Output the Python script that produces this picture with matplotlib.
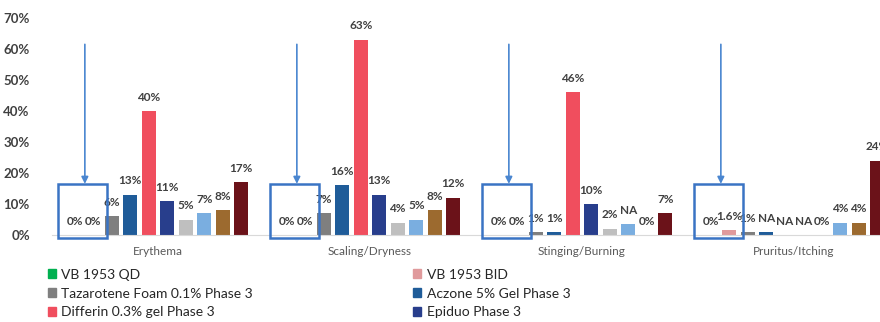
import numpy as np
import matplotlib
matplotlib.use("Agg")
import matplotlib.pyplot as plt
from matplotlib.patches import Rectangle, Patch

plt.rcParams['font.family'] = ['Lato', 'DejaVu Sans']

categories = ["Erythema", "Scaling/Dryness", "Stinging/Burning", "Pruritus/Itching"]
series_names = ["VB 1953 QD", "VB 1953 BID", "Tazarotene Foam 0.1% Phase 3",
                "Aczone 5% Gel Phase 3", "Differin 0.3% gel Phase 3", "Epiduo Phase 3",
                "Series 7", "Series 8", "Series 9", "Series 10"]
colors = ["#00B050", "#E09A9C", "#7F7F7F", "#1F5C99", "#F04E5E", "#283E8C",
          "#BFBFBF", "#7AAEE0", "#9C6A2F", "#6B1219"]

qd       = [0, 0, 0, 0]
bid      = [0, 0, 0, 1.6]
taz      = [6, 7, 1, 1]
aczone   = [13, 16, 1, 1]
differin = [40, 63, 46, 0]
epiduo   = [11, 13, 10, 0]
lgray    = [5, 4, 2, 0]
lblue    = [7, 5, 3.5, 4]
brown    = [8, 8, 0, 4]
maroon   = [17, 12, 7, 24]
values = [qd, bid, taz, aczone, differin, epiduo, lgray, lblue, brown, maroon]

# label text shown above each bar (per series, per category)
labels = [
    ["0%", "0%", "0%", "0%"],
    ["0%", "0%", "0%", "1.6%"],
    ["6%", "7%", "1%", "1%"],
    ["13%", "16%", "1%", "NA"],
    ["40%", "63%", "46%", "NA"],
    ["11%", "13%", "10%", "NA"],
    ["5%", "4%", "2%", "0%"],
    ["7%", "5%", "NA", "4%"],
    ["8%", "8%", "0%", "4%"],
    ["17%", "12%", "7%", "24%"],
]

fig = plt.figure(figsize=(8.8, 3.22), dpi=100)
ax = fig.add_axes([52/880, 87/322, 848/880, 217/322])

pitch = 18.5/212
width = 14/212
x = np.arange(len(categories))
for k, (vals, col) in enumerate(zip(values, colors)):
    xs = x + (k - 4.5)*pitch
    ax.bar(xs, vals, width=width, color=col, edgecolor="none")
    for i, (xi, v) in enumerate(zip(xs, vals)):
        ax.annotate(labels[k][i], (xi, v), xytext=(0, 10), textcoords="offset points",
                    ha="center", va="center", fontsize=8.5, color="#404040",
                    fontweight="bold", annotation_clip=False)

# highlight boxes and arrows over the VB 1953 bars
for i in x:
    ax.add_patch(Rectangle((i - 0.47, -1), 0.23, 17.3, fill=False, edgecolor="#3A74C4",
                           lw=1.8, clip_on=False, zorder=5))
    ax.annotate("", xy=(i - 0.345, 16.5), xytext=(i - 0.345, 61.5),
                arrowprops=dict(arrowstyle="-|>", color="#4A86D0", lw=1.2,
                                mutation_scale=10, shrinkA=0, shrinkB=0))

ax.set_xlim(-0.5, 3.5)
ax.set_ylim(0, 70)
ax.set_yticks(range(0, 71, 10))
ax.set_yticklabels([f"{t}%" for t in range(0, 71, 10)], fontsize=9.5,
                   color="#404040", fontweight="bold")
ax.set_xticks(x)
ax.set_xticklabels(categories, fontsize=8.5, color="#595959")
ax.tick_params(axis="both", length=0)
ax.tick_params(axis="y", pad=16)
ax.tick_params(axis="x", pad=8)
for s in ["top", "right", "left"]:
    ax.spines[s].set_visible(False)
ax.spines["bottom"].set_color("#D9D9D9")

order = [0, 2, 4, 1, 3, 5]
handles = [Patch(color=colors[j]) for j in order]
fig.legend(handles, [series_names[j] for j in order], ncol=2, frameon=False,
           loc="upper left", bbox_to_anchor=(42/880, 1 - 263/322),
           fontsize=10, labelcolor="#262626", handlelength=0.6, handleheight=0.6,
           handletextpad=0.4, columnspacing=11.5, labelspacing=0.5, borderaxespad=0)

fig.savefig("out.png", dpi=100)
